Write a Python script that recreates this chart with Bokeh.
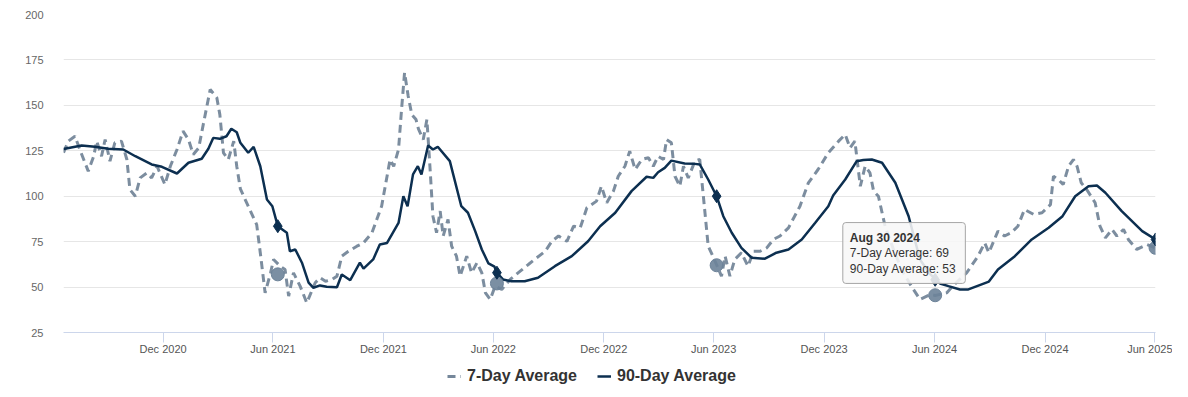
import pandas as pd
from bokeh.plotting import figure
from bokeh.layouts import column
from bokeh.models import (Legend, LegendItem, FixedTicker, DatetimeTickFormatter,
                          BoxAnnotation, Label, Range1d)
from bokeh.embed import file_html
from bokeh.resources import INLINE

# ---------------- data ----------------
avg90_dates = [
    "2020-06-19", "2020-07-19", "2020-08-10", "2020-09-01", "2020-09-26", "2020-10-16",
    "2020-11-12", "2020-11-29", "2020-12-24", "2021-01-12", "2021-02-03", "2021-02-14",
    "2021-02-22", "2021-03-05", "2021-03-16", "2021-03-24", "2021-04-02", "2021-04-08",
    "2021-04-21", "2021-04-30", "2021-05-11", "2021-05-22", "2021-05-31", "2021-06-09",
    "2021-06-24", "2021-06-29", "2021-07-08", "2021-07-19", "2021-07-30", "2021-08-07",
    "2021-08-18", "2021-08-29", "2021-09-15", "2021-09-23", "2021-10-07", "2021-10-23",
    "2021-10-29", "2021-11-14", "2021-11-25", "2021-12-07", "2021-12-26", "2022-01-03",
    "2022-01-10", "2022-01-19", "2022-01-27", "2022-02-02", "2022-02-13", "2022-02-21",
    "2022-03-01", "2022-03-21", "2022-04-09", "2022-04-20", "2022-05-02", "2022-05-13",
    "2022-05-24", "2022-06-03", "2022-06-07", "2022-06-17", "2022-07-01", "2022-07-23",
    "2022-08-14", "2022-09-11", "2022-10-09", "2022-11-05", "2022-11-25", "2022-12-20",
    "2023-01-16", "2023-02-10", "2023-02-21", "2023-03-01", "2023-03-12", "2023-03-23",
    "2023-04-14", "2023-05-01", "2023-05-09", "2023-05-23", "2023-06-06", "2023-06-17",
    "2023-07-01", "2023-07-17", "2023-08-03", "2023-08-25", "2023-09-13", "2023-10-03",
    "2023-10-25", "2023-11-16", "2023-12-08", "2023-12-16", "2024-01-05", "2024-01-24",
    "2024-02-04", "2024-02-18", "2024-03-06", "2024-03-28", "2024-04-19", "2024-05-08",
    "2024-05-25", "2024-06-10", "2024-06-24", "2024-07-13", "2024-07-27", "2024-08-18",
    "2024-08-30", "2024-09-14", "2024-10-12", "2024-11-09", "2024-12-07", "2024-12-30",
    "2025-01-20", "2025-02-11", "2025-02-25", "2025-03-11", "2025-04-07", "2025-05-11",
    "2025-06-02",
]
avg90_values = [
    126, 127.9, 127.2, 126.1, 125.7, 122,
    117.5, 116.2, 112.5, 118.4, 120.6, 126.1,
    132.1, 131.6, 133, 137.1, 135.2, 129.4,
    123.9, 127.2, 116.5, 98.2, 94.5, 83.5,
    79.9, 69.7, 70.7, 63.4, 52.4, 49.6,
    50.9, 50.2, 49.9, 56.9, 53.8, 63.4,
    60.1, 65.2, 73.4, 74.3, 85.3, 100,
    94.5, 112, 116.5, 112, 127.9, 125.7,
    127.2, 119.3, 94.5, 90.9, 80.8, 70.7,
    63, 61.2, 57.9, 54.2, 53.2, 53.2,
    55.1, 61.5, 67, 75.2, 83.5, 90.9,
    102.8, 110.7, 110.1, 113.2, 115.6, 119.6,
    118, 117.8, 117.5, 109.2, 100, 89,
    79.9, 71.6, 66.1, 65.6, 68.9, 70.7,
    76.2, 85.3, 94.5, 100.4, 109.2, 119.3,
    119.9, 120.2, 118.4, 107.4, 89, 65,
    57, 52, 50.5, 48.7, 48.7, 51.5,
    53, 59.7, 67, 76.2, 82.6, 89,
    100, 105.5, 105.9, 101.9, 91.8, 80.8,
    76.2,
]

avg7_dates = [
    "2020-06-19", "2020-06-27", "2020-07-08", "2020-07-16", "2020-07-30", "2020-08-08",
    "2020-08-13", "2020-08-21", "2020-08-27", "2020-09-04", "2020-09-12", "2020-09-23",
    "2020-10-02", "2020-10-07", "2020-10-16", "2020-10-24", "2020-11-04", "2020-11-12",
    "2020-11-21", "2020-12-04", "2020-12-13", "2020-12-24", "2021-01-03", "2021-01-12",
    "2021-01-20", "2021-01-29", "2021-02-06", "2021-02-17", "2021-02-28", "2021-03-05",
    "2021-03-11", "2021-03-19", "2021-03-28", "2021-04-02", "2021-04-08", "2021-04-21",
    "2021-05-05", "2021-05-11", "2021-05-19", "2021-05-28", "2021-06-02", "2021-06-13",
    "2021-06-21", "2021-06-27", "2021-07-05", "2021-07-16", "2021-07-27", "2021-08-10",
    "2021-08-18", "2021-08-27", "2021-09-07", "2021-09-15", "2021-09-23", "2021-10-04",
    "2021-10-18", "2021-10-29", "2021-11-12", "2021-11-28", "2021-12-12", "2021-12-18",
    "2021-12-26", "2021-12-31", "2022-01-05", "2022-01-11", "2022-01-17", "2022-01-24",
    "2022-01-28", "2022-02-05", "2022-02-11", "2022-02-16", "2022-02-21", "2022-02-27",
    "2022-03-05", "2022-03-10", "2022-03-18", "2022-03-24", "2022-04-01", "2022-04-07",
    "2022-04-18", "2022-04-26", "2022-05-05", "2022-05-13", "2022-05-19", "2022-05-27",
    "2022-06-04", "2022-06-15", "2022-06-29", "2022-07-12", "2022-07-29", "2022-08-12",
    "2022-08-26", "2022-09-06", "2022-09-17", "2022-10-01", "2022-10-12", "2022-10-23",
    "2022-11-03", "2022-11-19", "2022-11-27", "2022-12-06", "2022-12-17", "2022-12-25",
    "2023-01-05", "2023-01-13", "2023-01-22", "2023-02-02", "2023-02-13", "2023-02-21",
    "2023-03-01", "2023-03-10", "2023-03-15", "2023-03-23", "2023-03-29", "2023-04-06",
    "2023-04-12", "2023-04-20", "2023-05-01", "2023-05-09", "2023-05-15", "2023-05-23",
    "2023-06-01", "2023-06-14", "2023-06-20", "2023-06-28", "2023-07-06", "2023-07-17",
    "2023-07-28", "2023-08-06", "2023-08-17", "2023-08-28", "2023-09-08", "2023-09-19",
    "2023-10-03", "2023-10-22", "2023-11-05", "2023-11-21", "2023-12-08", "2023-12-25",
    "2024-01-05", "2024-01-13", "2024-01-21", "2024-01-30", "2024-02-07", "2024-02-15",
    "2024-02-21", "2024-02-29", "2024-03-11", "2024-03-28", "2024-04-10", "2024-04-27",
    "2024-05-08", "2024-05-25", "2024-06-02", "2024-06-21", "2024-07-01", "2024-07-24",
    "2024-08-12", "2024-08-23", "2024-08-30", "2024-09-14", "2024-09-25", "2024-10-06",
    "2024-10-17", "2024-10-28", "2024-11-12", "2024-11-26", "2024-12-10", "2024-12-15",
    "2024-12-23", "2024-12-31", "2025-01-09", "2025-01-17", "2025-01-23", "2025-01-30",
    "2025-02-08", "2025-02-22", "2025-03-02", "2025-03-11", "2025-03-22", "2025-03-30",
    "2025-04-10", "2025-04-18", "2025-05-02", "2025-05-19", "2025-06-02",
]
avg7_values = [
    123.9, 130.3, 133, 125.7, 113.8, 122,
    130.3, 122, 131.2, 119.3, 129.4, 130.3,
    120.2, 103.7, 100, 110.1, 112.8, 110.1,
    116.5, 106.4, 116.5, 125.7, 135.8, 131.2,
    123, 126.6, 140.3, 158.7, 154.2, 144.9,
    123.9, 120.2, 130.3, 116.5, 104, 94.5,
    84.4, 68.9, 46.8, 57.8, 65.2, 61.5,
    59.7, 45, 57.8, 50.5, 41.3, 52.4,
    55.1, 53.2, 54.2, 56, 67, 69.7,
    72.5, 74.3, 79.9, 94.5, 120.2, 116.5,
    125.7, 147.7, 168, 155.1, 144.9, 142.2,
    137, 131.2, 142.2, 116.5, 89, 79.9,
    91.8, 78.1, 87.2, 72.5, 67, 56,
    67, 57.8, 63.4, 57.8, 46.8, 43.2,
    50.5, 48.7, 54.2, 57.8, 62.4, 66.1,
    69.7, 75.2, 78.1, 75.2, 83.5, 82.6,
    93.6, 97.3, 105.5, 96.4, 102.8, 111,
    116.5, 124.8, 114.7, 120.2, 121.2, 116.5,
    122, 120.2, 131.2, 129.4, 111, 105.5,
    116.5, 110.1, 119.3, 120.2, 100, 72.5,
    66.1, 56, 67, 56, 65.2, 68.9,
    61.5, 69.7, 69.7, 71.6, 76.2, 78.1,
    82.6, 94.5, 107.4, 114.7, 123.9, 130.3,
    134, 126.6, 130.3, 105.5, 116.5, 112.8,
    102.8, 100, 83.5, 68, 58, 48.7,
    43.2, 45.9, 45.4, 46.8, 50.5, 57.8,
    67, 74.3, 69, 80.8, 78.1, 79.9,
    83.5, 92.7, 90, 90.9, 95.4, 111,
    109.2, 106.4, 116.5, 120.2, 116.5, 107.4,
    103.7, 96.4, 83.5, 77.1, 81.7, 78.1,
    81.7, 76.2, 70.7, 73.4, 71.6,
]

marker_dates = ["2021-06-09", "2022-06-07", "2023-06-06", "2024-06-02", "2025-06-02"]
marker_avg7 = [57, 52, 62, 45.5, 71.6]
marker_avg90 = [83.5, 57.9, 100, 54, 76.2]

tick_dates = ["2020-12-01", "2021-06-01", "2021-12-01", "2022-06-01", "2022-12-01",
              "2023-06-01", "2023-12-01", "2024-06-01", "2024-12-01", "2025-06-01"]
y_ticks = [25, 50, 75, 100, 125, 150, 175, 200]

series_names = ["7-Day Average", "90-Day Average"]
tooltip_title = "Aug 30 2024"
tooltip_lines = ["7-Day Average: 69", "90-Day Average: 53"]

# ---------------- figure ----------------
FONT = "Liberation Sans"
C7 = "#75879a"
C90 = "#0c2f50"
DASH = "8 5"

d90 = pd.to_datetime(avg90_dates)
d7 = pd.to_datetime(avg7_dates)
dm = pd.to_datetime(marker_dates)

p = figure(frame_width=1092, frame_height=318, x_axis_type="datetime",
           output_backend="svg", toolbar_location=None,
           x_range=Range1d(d7[0], d7[-1]), y_range=Range1d(25, 200),
           min_border_left=63, min_border_right=17, min_border_top=14,
           min_border_bottom=34)
p.outline_line_color = None
p.background_fill_color = "white"
p.border_fill_color = "white"

p.line(d7, avg7_values, line_color=C7, line_width=3, line_dash=DASH, line_alpha=0.95)
p.line(d90, avg90_values, line_color=C90, line_width=2.5)
p.scatter(dm, marker_avg7, marker="circle", size=13, fill_color="#6d8399",
          line_color="#6d8399", fill_alpha=0.9)
p.scatter(dm, marker_avg90, marker="diamond", size=13, fill_color=C90, line_color=C90)

# axes
p.xgrid.visible = False
p.ygrid.grid_line_color = "#e6e6e6"
p.ygrid.grid_line_width = 1
p.yaxis.ticker = FixedTicker(ticks=y_ticks)
p.yaxis.axis_line_color = None
p.yaxis.major_tick_line_color = None
p.yaxis.minor_tick_line_color = None
p.yaxis.major_label_standoff = 14
p.yaxis.major_label_text_font = FONT
p.yaxis.major_label_text_font_size = "11px"
p.yaxis.major_label_text_color = "#666666"

p.xaxis.ticker = FixedTicker(ticks=[pd.Timestamp(t).value // 10**6 for t in tick_dates])
p.xaxis.formatter = DatetimeTickFormatter(days="%b %Y", months="%b %Y", years="%b %Y")
p.xaxis.axis_line_color = "#ccd6eb"
p.xaxis.major_tick_line_color = "#ccd6eb"
p.xaxis.major_tick_out = 10
p.xaxis.major_tick_in = 0
p.xaxis.minor_tick_line_color = None
p.xaxis.major_label_standoff = 0
p.xaxis.major_label_text_font = FONT
p.xaxis.major_label_text_font_size = "11px"
p.xaxis.major_label_text_color = "#555555"

# tooltip
tip_left = pd.Timestamp("2024-01-01")
tip_right = pd.Timestamp("2024-07-22")
p.add_layout(BoxAnnotation(left=tip_left, right=tip_right, top=85.5, bottom=52,
                           fill_color="#f7f7f7", fill_alpha=0.88,
                           line_color="#a6a6a6", line_width=1, line_alpha=1,
                           border_radius=3))
p.add_layout(Label(x=tip_left, y=76.8, x_offset=7, text=tooltip_title,
                   text_font=FONT, text_font_size="12px", text_font_style="bold",
                   text_color="#333333", text_baseline="middle"))
p.add_layout(Label(x=tip_left, y=68.5, x_offset=7, text=tooltip_lines[0],
                   text_font=FONT, text_font_size="12px",
                   text_color="#333333", text_baseline="middle"))
p.add_layout(Label(x=tip_left, y=60.2, x_offset=7, text=tooltip_lines[1],
                   text_font=FONT, text_font_size="12px",
                   text_color="#333333", text_baseline="middle"))

# ---------------- legend strip ----------------
# The key lines reuse the series data; that data lies far outside this strip's
# numeric range, so only the legend glyphs are seen.
lg = figure(frame_width=1172, frame_height=30, output_backend="svg",
            toolbar_location=None, min_border=0,
            x_axis_location=None, y_axis_location=None,
            x_range=Range1d(0, 1), y_range=Range1d(0, 1))
lg.outline_line_color = None
lg.xgrid.visible = False
lg.ygrid.visible = False
k7 = lg.line(d7, avg7_values, line_color=C7, line_width=3, line_dash=DASH)
k90 = lg.line(d90, avg90_values, line_color=C90, line_width=2.5)
legend = Legend(items=[LegendItem(label=series_names[0], renderers=[k7]),
                       LegendItem(label=series_names[1], renderers=[k90])],
                orientation="horizontal", location=(447, 10),
                label_text_font=FONT, label_text_font_size="16px",
                label_text_font_style="bold", label_text_color="#333333",
                glyph_width=14, glyph_height=20, label_height=20,
                label_standoff=6, spacing=20,
                padding=0, margin=0, border_line_color=None,
                background_fill_alpha=0)
lg.add_layout(legend, "center")

layout = column(p, lg, spacing=0)
open("out.html", "w").write(file_html(layout, INLINE))
